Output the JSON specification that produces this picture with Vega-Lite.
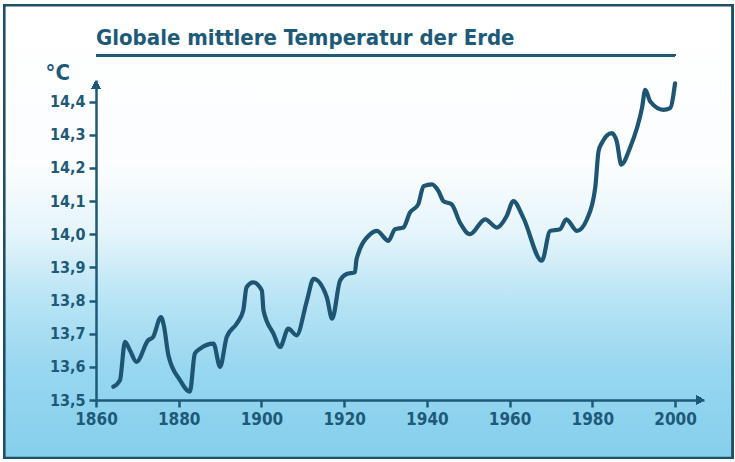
{
  "$schema": "https://vega.github.io/schema/vega-lite/v6.json",
  "width": 608,
  "height": 320,
  "autosize": {"type": "none"},
  "padding": {"left": 96, "top": 80, "right": 31, "bottom": 62},
  "background": "#ffffff",
  "config": {
    "view": {"stroke": null},
    "axis": {
      "labelOverlap": false,
      "labelFlush": false,
      "grid": false,
      "domainColor": "#1d5a78",
      "domainWidth": 2.5,
      "tickColor": "#1d5a78",
      "tickWidth": 2.5,
      "tickSize": 7,
      "labelFont": "DejaVu Sans Condensed",
      "labelFontWeight": "bold",
      "labelColor": "#1d5a78"
    }
  },
  "title": {
    "text": "Globale mittlere Temperatur der Erde",
    "anchor": "start",
    "frame": "group",
    "font": "DejaVu Sans Condensed",
    "fontWeight": "bold",
    "fontSize": 22,
    "color": "#1d5a78",
    "baseline": "alphabetic",
    "offset": -63,
    "zindex": 1
  },
  "data": {
    "values": [
      {"year": 1864.2, "temp": 13.54},
      {"year": 1865.8, "temp": 13.56},
      {"year": 1867.0, "temp": 13.675},
      {"year": 1868.2, "temp": 13.65},
      {"year": 1869.8, "temp": 13.615},
      {"year": 1872.6, "temp": 13.68},
      {"year": 1873.8, "temp": 13.69},
      {"year": 1875.7, "temp": 13.75},
      {"year": 1876.4, "temp": 13.725},
      {"year": 1877.5, "temp": 13.635},
      {"year": 1880.3, "temp": 13.56},
      {"year": 1882.7, "temp": 13.525},
      {"year": 1883.9, "temp": 13.64},
      {"year": 1885.2, "temp": 13.655},
      {"year": 1888.4, "temp": 13.67},
      {"year": 1890.0, "temp": 13.6},
      {"year": 1891.6, "temp": 13.69},
      {"year": 1894.0, "temp": 13.73},
      {"year": 1895.6, "temp": 13.77},
      {"year": 1896.4, "temp": 13.84},
      {"year": 1898.0, "temp": 13.855},
      {"year": 1900.1, "temp": 13.83},
      {"year": 1900.5, "temp": 13.77},
      {"year": 1902.9, "temp": 13.7},
      {"year": 1904.5, "temp": 13.66},
      {"year": 1906.5, "temp": 13.715},
      {"year": 1908.5, "temp": 13.695},
      {"year": 1911.0, "temp": 13.8},
      {"year": 1912.6, "temp": 13.865},
      {"year": 1915.8, "temp": 13.81},
      {"year": 1917.1, "temp": 13.745},
      {"year": 1919.0, "temp": 13.86},
      {"year": 1920.6, "temp": 13.88},
      {"year": 1922.6, "temp": 13.885},
      {"year": 1923.0, "temp": 13.925},
      {"year": 1926.3, "temp": 14.0},
      {"year": 1927.9, "temp": 14.01},
      {"year": 1930.7, "temp": 13.98},
      {"year": 1932.3, "temp": 14.015},
      {"year": 1934.3, "temp": 14.02},
      {"year": 1935.9, "temp": 14.065},
      {"year": 1937.9, "temp": 14.09},
      {"year": 1939.2, "temp": 14.145},
      {"year": 1941.2, "temp": 14.15},
      {"year": 1942.8, "temp": 14.13},
      {"year": 1944.0, "temp": 14.1},
      {"year": 1946.0, "temp": 14.09},
      {"year": 1948.0, "temp": 14.035},
      {"year": 1950.4, "temp": 14.0},
      {"year": 1954.1, "temp": 14.045},
      {"year": 1956.9, "temp": 14.02},
      {"year": 1959.3, "temp": 14.055},
      {"year": 1960.9, "temp": 14.1},
      {"year": 1963.3, "temp": 14.05},
      {"year": 1967.8, "temp": 13.92},
      {"year": 1969.8, "temp": 14.01},
      {"year": 1972.2, "temp": 14.015},
      {"year": 1973.7, "temp": 14.045},
      {"year": 1976.3, "temp": 14.01},
      {"year": 1978.7, "temp": 14.045},
      {"year": 1980.7, "temp": 14.14},
      {"year": 1981.5, "temp": 14.25},
      {"year": 1982.3, "temp": 14.275},
      {"year": 1984.7, "temp": 14.305},
      {"year": 1985.9, "temp": 14.28},
      {"year": 1987.0, "temp": 14.21},
      {"year": 1989.1, "temp": 14.26},
      {"year": 1992.0, "temp": 14.38},
      {"year": 1992.8, "temp": 14.435},
      {"year": 1994.0, "temp": 14.4},
      {"year": 1997.2, "temp": 14.375},
      {"year": 1998.8, "temp": 14.38},
      {"year": 2000.0, "temp": 14.455}
    ]
  },
  "layer": [
    {
      "mark": {
        "type": "rect",
        "clip": false,
        "stroke": "#1d4f66",
        "strokeWidth": 2,
        "fill": {
          "gradient": "linear",
          "x1": 0, "y1": 0, "x2": 0, "y2": 1,
          "stops": [
            {"offset": 0, "color": "#ffffff"},
            {"offset": 0.35, "color": "#fbfdfe"},
            {"offset": 0.5, "color": "#e6f5fb"},
            {"offset": 0.65, "color": "#b8e4f5"},
            {"offset": 0.8, "color": "#98d7f0"},
            {"offset": 1, "color": "#85cfec"}
          ]
        }
      },
      "encoding": {
        "x": {"datum": 1837.9},
        "x2": {"datum": 2013.8},
        "y": {"datum": 14.69},
        "y2": {"datum": 13.326}
      }
    },
    {
      "mark": {"type": "rule", "clip": false, "color": "#1d5a78", "strokeWidth": 2.5},
      "encoding": {
        "x": {"datum": 1860},
        "x2": {"datum": 2000},
        "y": {"datum": 14.54}
      }
    },
    {
      "mark": {
        "type": "line",
        "clip": false,
        "interpolate": "monotone",
        "color": "#1d5572",
        "strokeWidth": 4.2,
        "strokeCap": "round",
        "strokeJoin": "round"
      },
      "encoding": {
        "x": {
          "field": "year",
          "type": "quantitative",
          "scale": {"domain": [1860, 2007], "nice": false, "zero": false},
          "axis": {
            "values": [1860, 1880, 1900, 1920, 1940, 1960, 1980, 2000],
            "tickCount": 20,
            "format": "d",
            "title": null,
            "zindex": 1,
            "labelOverlap": false,
            "labelFontSize": 17,
            "labelPadding": 4
          }
        },
        "y": {
          "field": "temp",
          "type": "quantitative",
          "scale": {"domain": [13.5, 14.465], "nice": false, "zero": false},
          "axis": {
            "values": [13.5, 13.6, 13.7, 13.8, 13.9, 14.0, 14.1, 14.2, 14.3, 14.4],
            "tickCount": 20,
            "labelExpr": "replace(format(datum.value, '.1f'), '.', ',')",
            "zindex": 1,
            "labelOverlap": false,
            "title": "°C",
            "titleAngle": 0,
            "titleX": -51,
            "titleY": -1,
            "titleAlign": "left",
            "titleBaseline": "alphabetic",
            "titleFont": "DejaVu Sans Condensed",
            "titleFontWeight": "bold",
            "titleFontSize": 22,
            "titleColor": "#1d5a78",
            "labelFontSize": 16,
            "labelPadding": 4
          }
        }
      }
    },
    {
      "mark": {"type": "point", "shape": "triangle-up", "filled": true, "clip": false, "size": 80, "color": "#1d5a78", "opacity": 1},
      "encoding": {
        "x": {"datum": 1860},
        "y": {"datum": 14.45}
      }
    },
    {
      "mark": {"type": "point", "shape": "triangle-right", "filled": true, "clip": false, "size": 80, "color": "#1d5a78", "opacity": 1},
      "encoding": {
        "x": {"datum": 2006},
        "y": {"datum": 13.5}
      }
    }
  ]
}
